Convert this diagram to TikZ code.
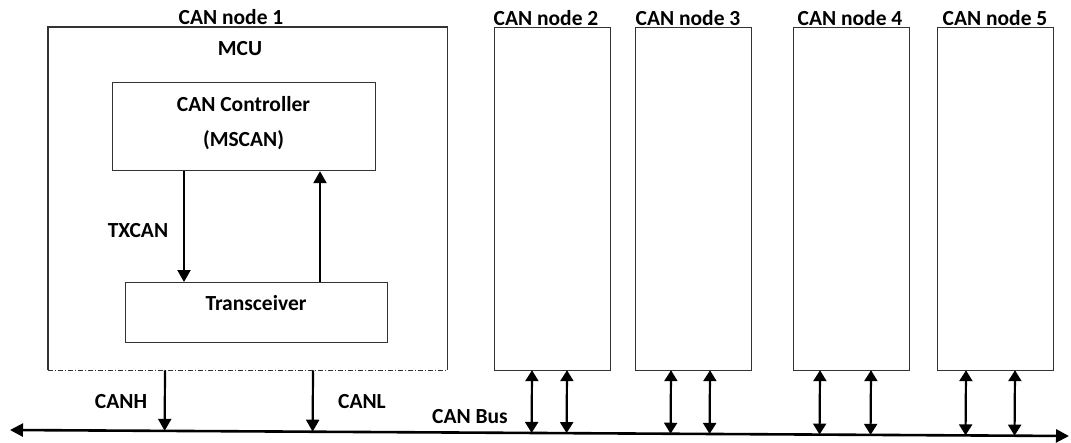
\documentclass[tikz,border=0pt]{standalone}
\usepackage{fontspec}
\setmainfont{Carlito}
\usetikzlibrary{arrows.meta,calc}
\begin{document}
\begin{tikzpicture}[x=1pt,y=-1pt,
  box/.style={draw=black!80,line width=1.2pt,inner sep=0pt},
  lbl/.style={font=\bfseries\fontsize{21.5}{24}\selectfont,inner sep=0pt,anchor=base},
  sig/.style={line width=2.2pt,-{Triangle[width=13pt,length=12pt]}},
  bidir/.style={line width=2.2pt,{Triangle[width=13pt,length=11pt]}-{Triangle[width=13pt,length=11pt]}},
  busline/.style={line width=2.6pt,{Triangle[width=13pt,length=13pt]}-{Triangle[width=13pt,length=13pt]}}]
\useasboundingbox (0,0) rectangle (1071,442);

% CAN node 1
\node[inner sep=0pt,minimum width=399pt,minimum height=343pt,anchor=north west] (n1) at (48,27) {};
\draw[box] (n1.south west) -- (n1.north west) -- (n1.north east) -- (n1.south east);
\draw[box,dash pattern=on 5pt off 2pt on 1pt off 2pt] (n1.south west) -- (n1.south east);
\node[lbl] (t1) at (231,24) {CAN node 1};
\node[lbl] (mcu) at (240,55) {MCU};

\node[box,minimum width=263pt,minimum height=88pt,anchor=north west] (cc) at (112,82) {};
\node[lbl] (cct) at (243.5,111) {CAN Controller};
\node[lbl] (ccm) at (243.5,146) {(MSCAN)};

\node[box,minimum width=262pt,minimum height=60pt,anchor=north west] (tr) at (125,282) {};
\node[lbl] (trt) at (256,310) {Transceiver};

\coordinate (ax1) at (184,0);
\coordinate (ax2) at (320,0);
\draw[sig] (cc.south -| ax1) -- (tr.north -| ax1);
\draw[sig] (tr.north -| ax2) -- (cc.south -| ax2);
\node[lbl] (txcan) at (138,237) {TXCAN};

% other nodes
\node[box,minimum width=116pt,minimum height=343pt,anchor=north west] (n2) at (494,27) {};
\node[box,minimum width=116pt,minimum height=343pt,anchor=north west] (n3) at (635,27) {};
\node[box,minimum width=116pt,minimum height=343pt,anchor=north west] (n4) at (793,27) {};
\node[box,minimum width=116pt,minimum height=343pt,anchor=north west] (n5) at (937,27) {};
\node[lbl] (t2) at (546,25) {CAN node 2};
\node[lbl] (t3) at (688,25) {CAN node 3};
\node[lbl] (t4) at (850,25) {CAN node 4};
\node[lbl] (t5) at (995,25) {CAN node 5};

% bus
\coordinate (busL) at (10,430);
\coordinate (busR) at (1069,436);
\draw[busline] (busL) -- (busR);
\node[lbl] (busl) at (470,423) {CAN Bus};

\foreach \nm/\xx in {h/165,l/313}{
  \coordinate (c\nm) at (\xx,370);
  \coordinate (p\nm) at ($(busL)!(c\nm)!(busR)$);
  \draw[sig] (n1.south -| c\nm) -- (p\nm);
}
\node[lbl] (canh) at (121,408) {CANH};
\node[lbl] (canl) at (362,408) {CANL};

\foreach \n/\xa/\xb in {2/532/567,3/671/710,4/820/871,5/966/1015}{
  \coordinate (a\n) at (\xa,370);
  \coordinate (b\n) at (\xb,370);
  \coordinate (pa\n) at ($(busL)!(a\n)!(busR)$);
  \coordinate (pb\n) at ($(busL)!(b\n)!(busR)$);
  \draw[bidir] ([yshift=1pt]n\n.south -| a\n) -- (pa\n);
  \draw[bidir] ([yshift=1pt]n\n.south -| b\n) -- (pb\n);
}
\end{tikzpicture}
\end{document}
